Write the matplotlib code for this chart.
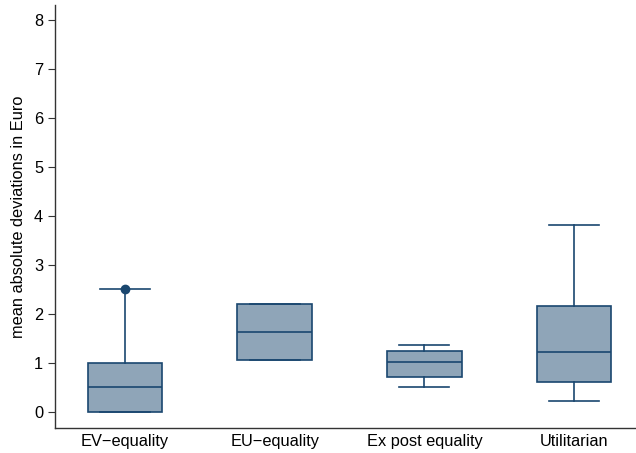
import matplotlib
matplotlib.use('Agg')
import matplotlib.pyplot as plt

plt.rcParams['font.family'] = ['Liberation Sans', 'DejaVu Sans']

categories = ['EV\u2212equality', 'EU\u2212equality', 'Ex post equality', 'Utilitarian']
q1 = [0.0, 1.07, 0.71, 0.62]
median = [0.5, 1.63, 1.01, 1.23]
q3 = [1.0, 2.20, 1.245, 2.17]
whisker_low = [0.0, 1.07, 0.50, 0.22]
whisker_high = [2.5, 2.20, 1.37, 3.82]
outliers = [[2.5], [], [], []]

navy = '#1a476f'
fill = '#8fa5b8'

stats = []
for i, name in enumerate(categories):
    stats.append(dict(label=name, q1=q1[i], med=median[i], q3=q3[i],
                      whislo=whisker_low[i], whishi=whisker_high[i], fliers=outliers[i]))

fig = plt.figure(figsize=(6.36, 4.53), dpi=100)
ax = fig.add_axes([0.0865, 0.0552, 0.9135, 0.9338])

ax.bxp(stats, positions=[1, 2, 3, 4], widths=0.5, capwidths=0.335, patch_artist=True,
       boxprops=dict(facecolor=fill, edgecolor=navy, linewidth=1.2),
       medianprops=dict(color=navy, linewidth=1.2),
       whiskerprops=dict(color=navy, linewidth=1.2),
       capprops=dict(color=navy, linewidth=1.2),
       flierprops=dict(marker='o', markerfacecolor=navy, markeredgecolor=navy, markersize=6))

ax.set_xlim(0.532, 4.414)
ax.set_ylim(-0.327, 8.306)
ax.set_yticks(range(0, 9))
ax.set_ylabel('mean absolute deviations in Euro', fontsize=11.8, labelpad=6)
ax.tick_params(axis='y', labelsize=11.8, length=5, width=0.8, color='#333333')
ax.tick_params(axis='x', labelsize=11.8, length=0, pad=4)
for s in ['top', 'right']:
    ax.spines[s].set_visible(False)
for s in ['left', 'bottom']:
    ax.spines[s].set_color('#333333')
    ax.spines[s].set_linewidth(1.0)

fig.savefig('out.png', dpi=100)
